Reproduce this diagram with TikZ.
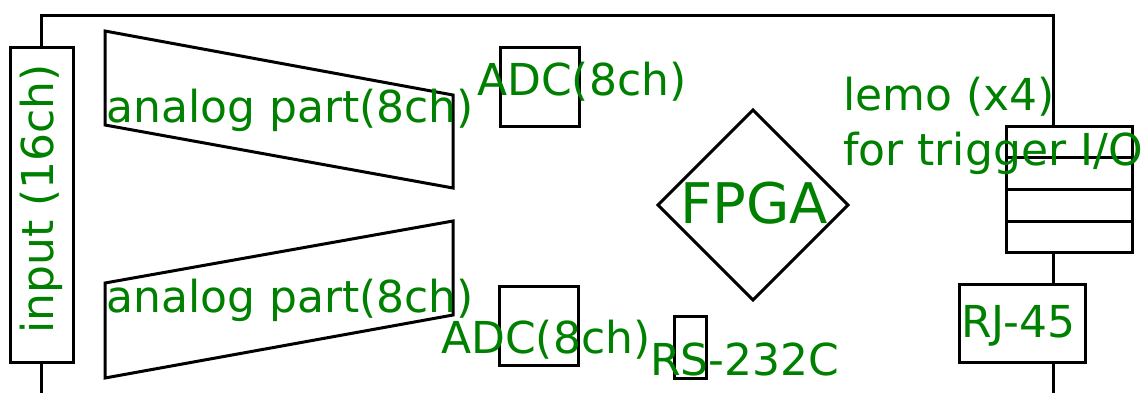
\documentclass[tikz,border=0pt]{standalone}
\usepackage{fontspec}
\setmainfont{DejaVu Sans}
\usetikzlibrary{shapes.geometric}
\definecolor{lbl}{RGB}{0,128,0}
\tikzset{
  shp/.style={draw=black, line width=3pt, fill=white, line join=miter},
  lbl/.style={text=lbl, inner sep=0pt, font=\fontsize{44}{50}\selectfont},
  big/.style={text=lbl, inner sep=0pt, font=\fontsize{56}{64}\selectfont}
}
\begin{document}
\begin{tikzpicture}[x=1pt,y=-1pt]
\useasboundingbox (0,0) rectangle (1144,392);
% board outline
\draw[line width=3pt] (41,400) -- (41,15) -- (1053,15) -- (1053,400);
% input connector
\draw[shp] (10,47) rectangle (73,362);
% analog parts
\draw[shp] (105,31) -- (453,95) -- (453,188) -- (105,125) -- cycle;
\draw[shp] (105,283) -- (453,221) -- (453,315) -- (105,378) -- cycle;
% ADCs
\draw[shp] (500,47) rectangle (579,126);
\draw[shp] (499,286) rectangle (578,365);
% RS-232C
\draw[shp] (674,316) rectangle (706,378);
% FPGA
\draw[shp] (753,110) -- (848,205) -- (753,300) -- (658,205) -- cycle;
% lemo
\draw[shp] (1006,126) rectangle (1132,252);
\draw[shp] (1006,157) -- (1132,157);
\draw[shp] (1006,189) -- (1132,189);
\draw[shp] (1006,221) -- (1132,221);
% RJ-45
\draw[shp] (959,284) rectangle (1085,362);
% labels
\node[lbl, rotate=90, anchor=base] (tin) at (53,199) {input (16ch)};
\node[lbl, anchor=base west] (tan1) at (106,122) {analog part(8ch)};
\node[lbl, anchor=base west] (tan2) at (106,312) {analog part(8ch)};
\node[lbl, anchor=base west] (tadc1) at (477,95) {ADC(8ch)};
\node[lbl, anchor=base west] (tadc2) at (441,353) {ADC(8ch)};
\node[lbl, anchor=base west] (trs) at (650,375) {RS-232C};
\node[big, anchor=base west] (tfpga) at (680,223) {FPGA};
\node[lbl, anchor=base west] (tlemo1) at (843,110) {lemo (x4)};
\node[lbl, anchor=base west] (tlemo2) at (843,165) {for trigger I/O};
\node[lbl, anchor=base west] (trj) at (961,337) {RJ-45};
\end{tikzpicture}
\end{document}
